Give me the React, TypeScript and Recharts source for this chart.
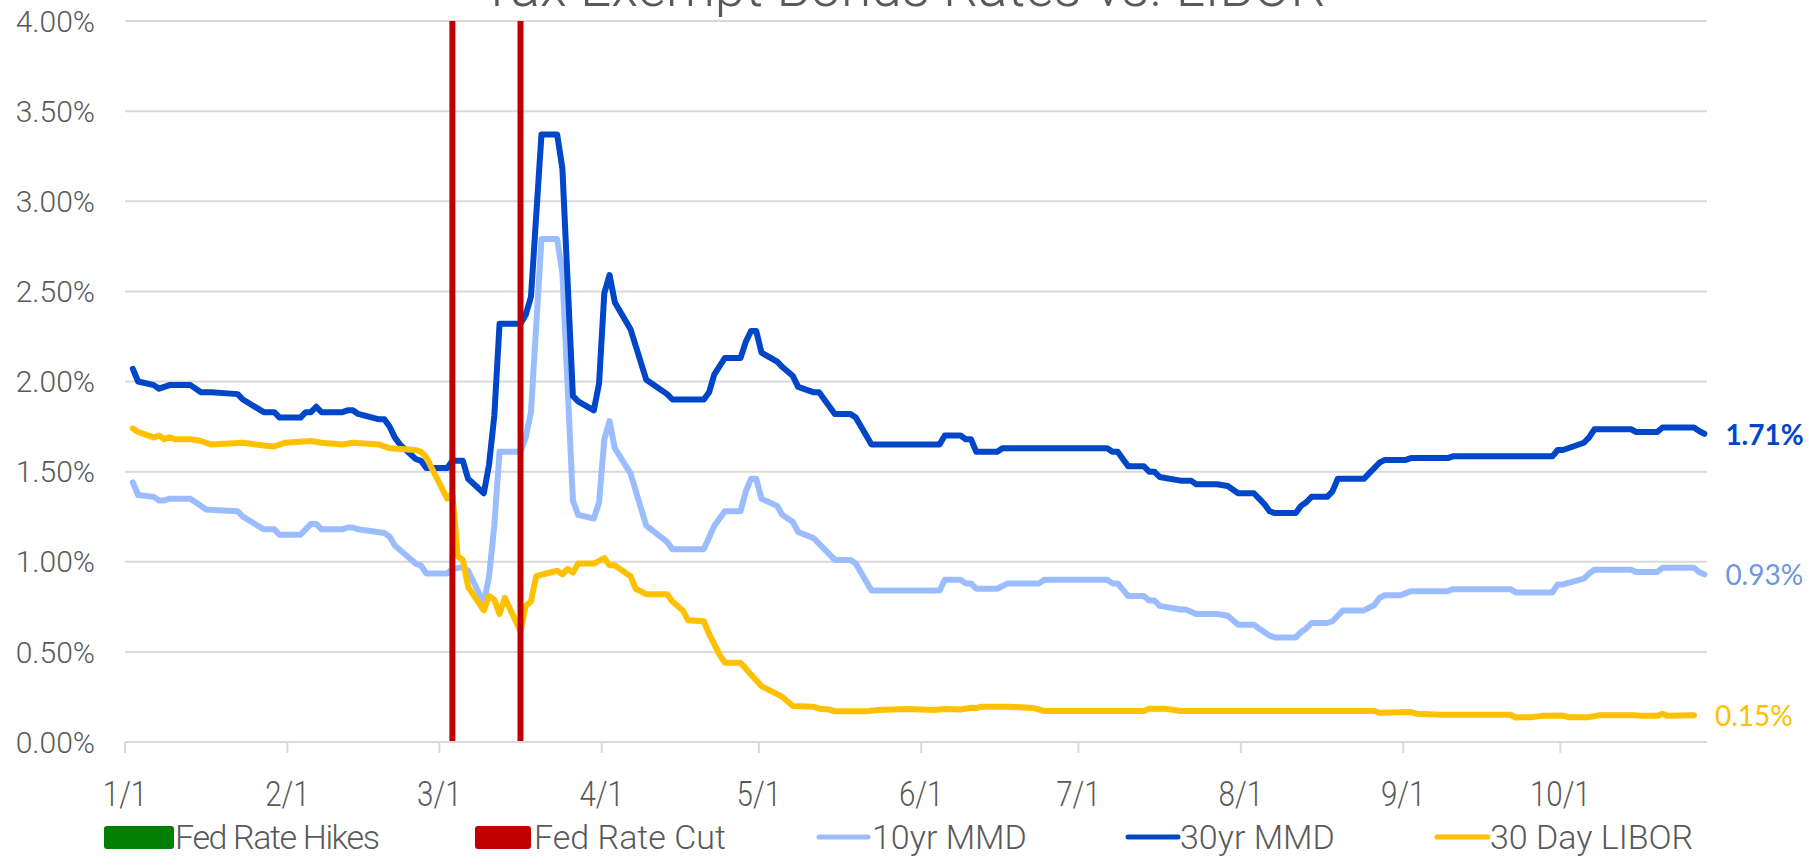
import React from 'react';
import { LineChart, Line, XAxis, YAxis, CartesianGrid, ReferenceLine } from 'recharts';

// day 0 = 1/1, values in %
const monthTicks = [0, 31, 60, 91, 121, 152, 182, 213, 244, 274];
const monthLabels = ['1/1', '2/1', '3/1', '4/1', '5/1', '6/1', '7/1', '8/1', '9/1', '10/1'];
const yTicks = [0, 0.5, 1, 1.5, 2, 2.5, 3, 3.5, 4];
const fedCutDays = [62, 75];

const mmd10: [number, number][] = [
  [1, 1.44], [2, 1.37], [5, 1.36], [6, 1.34], [7, 1.34], [8, 1.35], [12, 1.35], [15, 1.29], [21, 1.28],
  [22, 1.25], [26, 1.18], [28, 1.18], [29, 1.15], [33, 1.15], [35, 1.21], [36, 1.21], [37, 1.18],
  [41, 1.18], [42, 1.19], [43, 1.19], [44, 1.18], [49, 1.16], [50, 1.14], [51, 1.09], [55, 0.99],
  [56, 0.98], [57, 0.935], [61, 0.935], [62, 0.96], [64, 0.97], [65, 0.95], [67, 0.83], [68, 0.77],
  [69, 0.92], [70, 1.2], [71, 1.61], [75, 1.61], [76, 1.69], [77, 1.83], [79, 2.79], [82, 2.79],
  [83, 2.6], [85, 1.34], [86, 1.26], [89, 1.24], [90, 1.33], [91, 1.68], [92, 1.78], [93, 1.63],
  [96, 1.49], [99, 1.2], [103, 1.11], [104, 1.07], [110, 1.07], [112, 1.2], [114, 1.28], [117, 1.28],
  [118, 1.39], [119, 1.46], [120, 1.46], [121, 1.35], [124, 1.31], [125, 1.26], [127, 1.22],
  [128, 1.165], [131, 1.13], [135, 1.01], [138, 1.01], [139, 0.99], [142, 0.84], [155, 0.84],
  [156, 0.9], [159, 0.9], [160, 0.88], [161, 0.88], [162, 0.85], [166, 0.85], [168, 0.88], [174, 0.88],
  [175, 0.9], [187, 0.9], [188, 0.88], [189, 0.88], [191, 0.81], [194, 0.81], [195, 0.785],
  [196, 0.785], [197, 0.755], [201, 0.735], [202, 0.735], [204, 0.71], [208, 0.71], [210, 0.7],
  [212, 0.65], [215, 0.65], [216, 0.63], [218, 0.59], [219, 0.58], [223, 0.58], [224, 0.61],
  [225, 0.63], [226, 0.66], [229, 0.66], [230, 0.67], [232, 0.73], [236, 0.73], [238, 0.76],
  [239, 0.8], [240, 0.814], [243, 0.814], [245, 0.837], [252, 0.837], [253, 0.848], [264, 0.848],
  [265, 0.83], [272, 0.83], [273, 0.874], [274, 0.874], [278, 0.906], [279, 0.934], [280, 0.956],
  [287, 0.956], [288, 0.943], [292, 0.943], [293, 0.967], [299, 0.967], [300, 0.943], [301, 0.93],
];

const mmd30: [number, number][] = [
  [1, 2.07], [2, 2.0], [5, 1.98], [6, 1.96], [8, 1.98], [12, 1.98], [14, 1.94], [16, 1.94], [21, 1.93],
  [22, 1.9], [26, 1.83], [28, 1.83], [29, 1.8], [33, 1.8], [34, 1.83], [35, 1.83], [36, 1.86],
  [37, 1.83], [41, 1.83], [42, 1.84], [43, 1.84], [44, 1.82], [48, 1.79], [49, 1.79], [50, 1.75],
  [51, 1.69], [52, 1.65], [55, 1.57], [56, 1.56], [57, 1.52], [61, 1.52], [62, 1.56], [64, 1.56],
  [65, 1.46], [68, 1.38], [69, 1.54], [70, 1.81], [71, 2.32], [75, 2.32], [76, 2.37], [77, 2.47],
  [79, 3.37], [82, 3.37], [83, 3.18], [85, 1.92], [86, 1.89], [89, 1.84], [90, 1.99], [91, 2.49],
  [92, 2.59], [93, 2.44], [96, 2.29], [99, 2.01], [103, 1.93], [104, 1.9], [110, 1.9], [111, 1.94],
  [112, 2.04], [114, 2.13], [117, 2.13], [118, 2.22], [119, 2.28], [120, 2.28], [121, 2.16],
  [124, 2.11], [125, 2.08], [127, 2.03], [128, 1.97], [131, 1.94], [132, 1.94], [135, 1.82],
  [138, 1.82], [139, 1.8], [142, 1.65], [155, 1.65], [156, 1.7], [159, 1.7], [160, 1.68], [161, 1.68],
  [162, 1.61], [166, 1.61], [167, 1.63], [187, 1.63], [188, 1.61], [189, 1.61], [191, 1.53],
  [194, 1.53], [195, 1.5], [196, 1.5], [197, 1.47], [201, 1.45], [203, 1.45], [204, 1.43], [208, 1.43],
  [210, 1.42], [212, 1.38], [215, 1.38], [216, 1.35], [217, 1.32], [218, 1.28], [219, 1.27],
  [223, 1.27], [224, 1.31], [225, 1.33], [226, 1.36], [229, 1.36], [230, 1.39], [231, 1.46],
  [236, 1.46], [237, 1.49], [239, 1.55], [240, 1.565], [244, 1.565], [245, 1.575], [252, 1.575],
  [253, 1.585], [272, 1.585], [273, 1.62], [274, 1.62], [278, 1.66], [279, 1.69], [280, 1.735],
  [287, 1.735], [288, 1.72], [292, 1.72], [293, 1.745], [299, 1.745], [300, 1.725], [301, 1.71],
];

const libor: [number, number][] = [
  [1, 1.74], [2, 1.72], [5, 1.69], [6, 1.7], [7, 1.68], [8, 1.69], [9, 1.68], [12, 1.68], [14, 1.67],
  [16, 1.65], [22, 1.66], [26, 1.645], [28, 1.64], [30, 1.66], [35, 1.67], [37, 1.66], [41, 1.65],
  [43, 1.66], [48, 1.65], [50, 1.63], [55, 1.62], [56, 1.61], [57, 1.58], [61, 1.35], [62, 1.38],
  [63, 1.03], [64, 1.01], [65, 0.86], [68, 0.73], [69, 0.81], [70, 0.79], [71, 0.71], [72, 0.8],
  [75, 0.615], [76, 0.755], [77, 0.78], [78, 0.92], [82, 0.95], [83, 0.93], [84, 0.96], [85, 0.94],
  [86, 0.99], [89, 0.99], [91, 1.02], [92, 0.98], [93, 0.98], [96, 0.92], [97, 0.85], [99, 0.82],
  [103, 0.82], [104, 0.78], [106, 0.73], [107, 0.675], [110, 0.67], [111, 0.6], [113, 0.485],
  [114, 0.44], [117, 0.44], [119, 0.375], [121, 0.31], [125, 0.25], [127, 0.2], [131, 0.195],
  [132, 0.185], [134, 0.18], [135, 0.17], [141, 0.17], [143, 0.177], [149, 0.183], [154, 0.177],
  [156, 0.183], [159, 0.18], [161, 0.19], [162, 0.188], [163, 0.196], [168, 0.196], [173, 0.188],
  [175, 0.172], [194, 0.172], [195, 0.185], [198, 0.185], [201, 0.172], [238, 0.172], [239, 0.162],
  [245, 0.166], [246, 0.157], [251, 0.151], [264, 0.151], [265, 0.136], [268, 0.138], [270, 0.145],
  [274, 0.147], [275, 0.138], [279, 0.138], [281, 0.149], [288, 0.149], [289, 0.145], [292, 0.145],
  [293, 0.157], [294, 0.145], [299, 0.149],
];

const C10 = '#9BBDFF';
const C30 = '#0046C8';
const CLIB = '#FFC000';
const CRED = '#C00000';
const CGREEN = '#008000';
const GRAY = '#595959';
const FONT = 'Roboto, sans-serif';

// points sit in the middle of their day slot
const toPoints = (s: [number, number][]) => s.map(([d, v]) => ({ x: d + 0.5, v }));

const endLabel = (count: number, color: string, bold: boolean) => (props: any) => {
  const { x, y, index, value } = props;
  if (index !== count - 1) return null;
  return (
    <text x={x + 21} y={y} fill={color} fontSize={28} fontWeight={bold ? 700 : 400}
      fontFamily="Lato, 'Open Sans', sans-serif" dominantBaseline="central">
      {Number(value).toFixed(2)}%
    </text>
  );
};

// narrow, tall month labels like the original
const MonthTick = (props: any) => {
  const { x, y, payload } = props;
  return (
    <text transform={`translate(${x},${y}) scale(0.82,1)`} textAnchor="middle" dy="0.71em"
      fill={GRAY} fontSize={36} fontFamily={FONT} fontWeight={300}>
      {monthLabels[monthTicks.indexOf(payload.value)]}
    </text>
  );
};

function Overlay() {
  const ly = 837;
  return (
    <svg width={1820} height={858} style={{ position: 'absolute', left: 0, top: 0, pointerEvents: 'none' }}>
      <text x={903} y={6} textAnchor="middle" fontSize={55} fontFamily={FONT} fontWeight={300} fill={GRAY}>
        Tax Exempt Bonds Rates vs. LIBOR
      </text>
      <g fontSize={34} fontFamily={FONT} fontWeight={300} fill={GRAY}>
        <rect x={104} y={826} width={70} height={23} rx={3} fill={CGREEN} />
        <text x={175} y={ly} dominantBaseline="central" textLength={205}>Fed Rate Hikes</text>
        <rect x={475} y={826} width={56} height={23} rx={3} fill={CRED} />
        <text x={534} y={ly} dominantBaseline="central">Fed Rate Cut</text>
        <line x1={819} x2={868} y1={ly} y2={ly} stroke={C10} strokeWidth={5} strokeLinecap="round" />
        <text x={872} y={ly} dominantBaseline="central">10yr MMD</text>
        <line x1={1128} x2={1178} y1={ly} y2={ly} stroke={C30} strokeWidth={5} strokeLinecap="round" />
        <text x={1180} y={ly} dominantBaseline="central">30yr MMD</text>
        <line x1={1437} x2={1488} y1={ly} y2={ly} stroke={CLIB} strokeWidth={5} strokeLinecap="round" />
        <text x={1490} y={ly} dominantBaseline="central">30 Day LIBOR</text>
      </g>
    </svg>
  );
}

export default function App() {
  const d10 = toPoints(mmd10);
  const d30 = toPoints(mmd30);
  const dLib = toPoints(libor);
  return (
    <div style={{ position: 'absolute', left: 0, top: 0, width: 1820, height: 858, background: '#fff' }}>
      <LineChart width={1820} height={858} margin={{ top: 21, right: 113, bottom: 0, left: 0 }}>
        <CartesianGrid vertical={false} stroke="#d9d9d9" strokeWidth={2} />
        <XAxis type="number" dataKey="x" domain={[0, 302]} ticks={monthTicks} height={116}
          axisLine={{ stroke: '#d9d9d9', strokeWidth: 2 }} tickLine={{ stroke: '#d9d9d9', strokeWidth: 2 }}
          tickSize={11} tickMargin={27} tick={<MonthTick />} />
        <YAxis type="number" domain={[0, 4]} ticks={yTicks} width={125} axisLine={false} tickLine={false}
          tickSize={0} tickMargin={30} tickFormatter={(v: number) => v.toFixed(2) + '%'}
          tick={{ fill: GRAY, fontSize: 30, fontFamily: FONT, fontWeight: 300 }} />
        <Line data={d10} dataKey="v" stroke={C10} strokeWidth={6} dot={false} isAnimationActive={false}
          strokeLinejoin="round" strokeLinecap="round" label={endLabel(d10.length, '#6F97DC', false)} />
        <Line data={d30} dataKey="v" stroke={C30} strokeWidth={6} dot={false} isAnimationActive={false}
          strokeLinejoin="round" strokeLinecap="round" label={endLabel(d30.length, C30, true)} />
        <Line data={dLib} dataKey="v" stroke={CLIB} strokeWidth={6} dot={false} isAnimationActive={false}
          strokeLinejoin="round" strokeLinecap="round" label={endLabel(dLib.length, CLIB, false)} />
        {fedCutDays.map((d) => (
          <ReferenceLine key={d} x={d + 0.5} stroke={CRED} strokeWidth={6} />
        ))}
      </LineChart>
      <Overlay />
    </div>
  );
}
